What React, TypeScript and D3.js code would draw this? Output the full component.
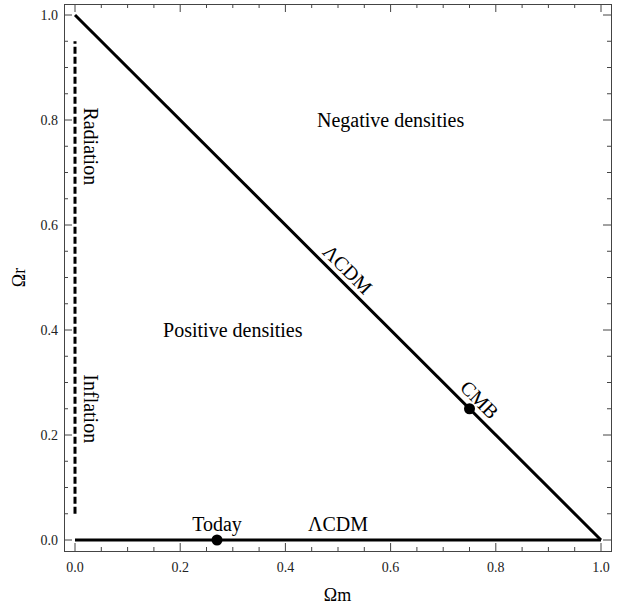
import { useRef, useEffect } from "react";
import * as d3 from "d3";

const X_TICKS = [0, 0.2, 0.4, 0.6, 0.8, 1.0];
const Y_TICKS = [0, 0.2, 0.4, 0.6, 0.8, 1.0];
const MINOR = d3.range(0, 1.0001, 0.05);

const DIAGONAL = [
  { m: 0, r: 1 },
  { m: 1, r: 0 },
];
const FLAT = [
  { m: 0, r: 0 },
  { m: 1, r: 0 },
];
const DASHED = [
  { m: 0, r: 0.05 },
  { m: 0, r: 0.95 },
];

const POINTS = [
  { name: "Today", m: 0.27, r: 0 },
  { name: "CMB", m: 0.75, r: 0.25 },
];

const LABELS = [
  { text: "Negative densities", m: 0.6, r: 0.8, rot: 0 },
  { text: "Positive densities", m: 0.3, r: 0.4, rot: 0 },
  { text: "Radiation", m: 0.03, r: 0.75, rot: 90 },
  { text: "Inflation", m: 0.03, r: 0.25, rot: 90 },
  { text: "ΛCDM", m: 0.5, r: 0.03, rot: 0 },
  { text: "ΛCDM", m: 0.518, r: 0.515, rot: 45 },
  { text: "Today", m: 0.27, r: 0.03, rot: 0 },
  { text: "CMB", m: 0.769, r: 0.267, rot: 45 },
];

const FONT = "'Liberation Serif', 'Times New Roman', 'DejaVu Serif', serif";

export default function App() {
  const svgRef = useRef<SVGSVGElement>(null);

  useEffect(() => {
    if (!svgRef.current) return;
    const width = 624;
    const height = 608;
    const svg = d3.select(svgRef.current);
    svg.selectAll("*").remove();
    svg.attr("width", width).attr("height", height);

    const frame = { left: 64, right: 611, top: 4, bottom: 551 };
    const x = d3.scaleLinear().domain([0, 1]).range([75, 601]);
    const y = d3.scaleLinear().domain([0, 1]).range([540, 15]);

    const g = svg.append("g").style("font-family", FONT);

    // frame
    g.append("rect")
      .attr("x", frame.left + 0.5)
      .attr("y", frame.top + 0.5)
      .attr("width", frame.right - frame.left)
      .attr("height", frame.bottom - frame.top)
      .attr("fill", "none")
      .attr("stroke", "#444")
      .attr("stroke-width", 1);

    // ticks, inward on all four sides
    const tickStroke = "#444";
    MINOR.forEach((v) => {
      const major = X_TICKS.some((t) => Math.abs(t - v) < 1e-6);
      const len = major ? 8 : 4;
      g.append("line").attr("x1", x(v)).attr("x2", x(v))
        .attr("y1", frame.bottom).attr("y2", frame.bottom - len)
        .attr("stroke", tickStroke);
      g.append("line").attr("x1", x(v)).attr("x2", x(v))
        .attr("y1", frame.top).attr("y2", frame.top + len)
        .attr("stroke", tickStroke);
      g.append("line").attr("y1", y(v)).attr("y2", y(v))
        .attr("x1", frame.left).attr("x2", frame.left + len)
        .attr("stroke", tickStroke);
      g.append("line").attr("y1", y(v)).attr("y2", y(v))
        .attr("x1", frame.right).attr("x2", frame.right - len)
        .attr("stroke", tickStroke);
    });

    // tick labels
    g.selectAll(".xt")
      .data(X_TICKS)
      .enter()
      .append("text")
      .attr("x", (d) => x(d))
      .attr("y", frame.bottom + 21)
      .attr("text-anchor", "middle")
      .style("font-size", "14px")
      .attr("fill", "#222")
      .text((d) => d.toFixed(1));

    g.selectAll(".yt")
      .data(Y_TICKS)
      .enter()
      .append("text")
      .attr("x", frame.left - 6)
      .attr("y", (d) => y(d) + 5)
      .attr("text-anchor", "end")
      .style("font-size", "14px")
      .attr("fill", "#222")
      .text((d) => d.toFixed(1));

    // axis labels
    g.append("text")
      .attr("x", (frame.left + frame.right) / 2)
      .attr("y", 601)
      .attr("text-anchor", "middle")
      .style("font-size", "18px")
      .text("Ωm");
    g.append("text")
      .attr("transform", `translate(25, ${(frame.top + frame.bottom) / 2}) rotate(-90)`)
      .attr("text-anchor", "middle")
      .style("font-size", "18px")
      .text("Ωr");

    const line = d3
      .line<{ m: number; r: number }>()
      .x((d) => x(d.m))
      .y((d) => y(d.r));

    g.append("path").attr("d", line(DIAGONAL)).attr("fill", "none")
      .attr("stroke", "#000").attr("stroke-width", 3);
    g.append("path").attr("d", line(FLAT)).attr("fill", "none")
      .attr("stroke", "#000").attr("stroke-width", 3);
    g.append("path").attr("d", line(DASHED)).attr("fill", "none")
      .attr("stroke", "#000").attr("stroke-width", 3)
      .attr("stroke-dasharray", "7,3");

    g.selectAll(".pt")
      .data(POINTS)
      .enter()
      .append("circle")
      .attr("cx", (d) => x(d.m))
      .attr("cy", (d) => y(d.r))
      .attr("r", 5.5)
      .attr("fill", "#000");

    g.selectAll(".lbl")
      .data(LABELS)
      .enter()
      .append("text")
      .attr("transform", (d) => `translate(${x(d.m)}, ${y(d.r)}) rotate(${d.rot})`)
      .attr("text-anchor", "middle")
      .attr("dy", "0.33em")
      .style("font-size", "20px")
      .attr("fill", "#000")
      .text((d) => d.text);
  }, []);

  return <svg ref={svgRef} style={{ position: "absolute", left: 0, top: 0 }} />;
}
